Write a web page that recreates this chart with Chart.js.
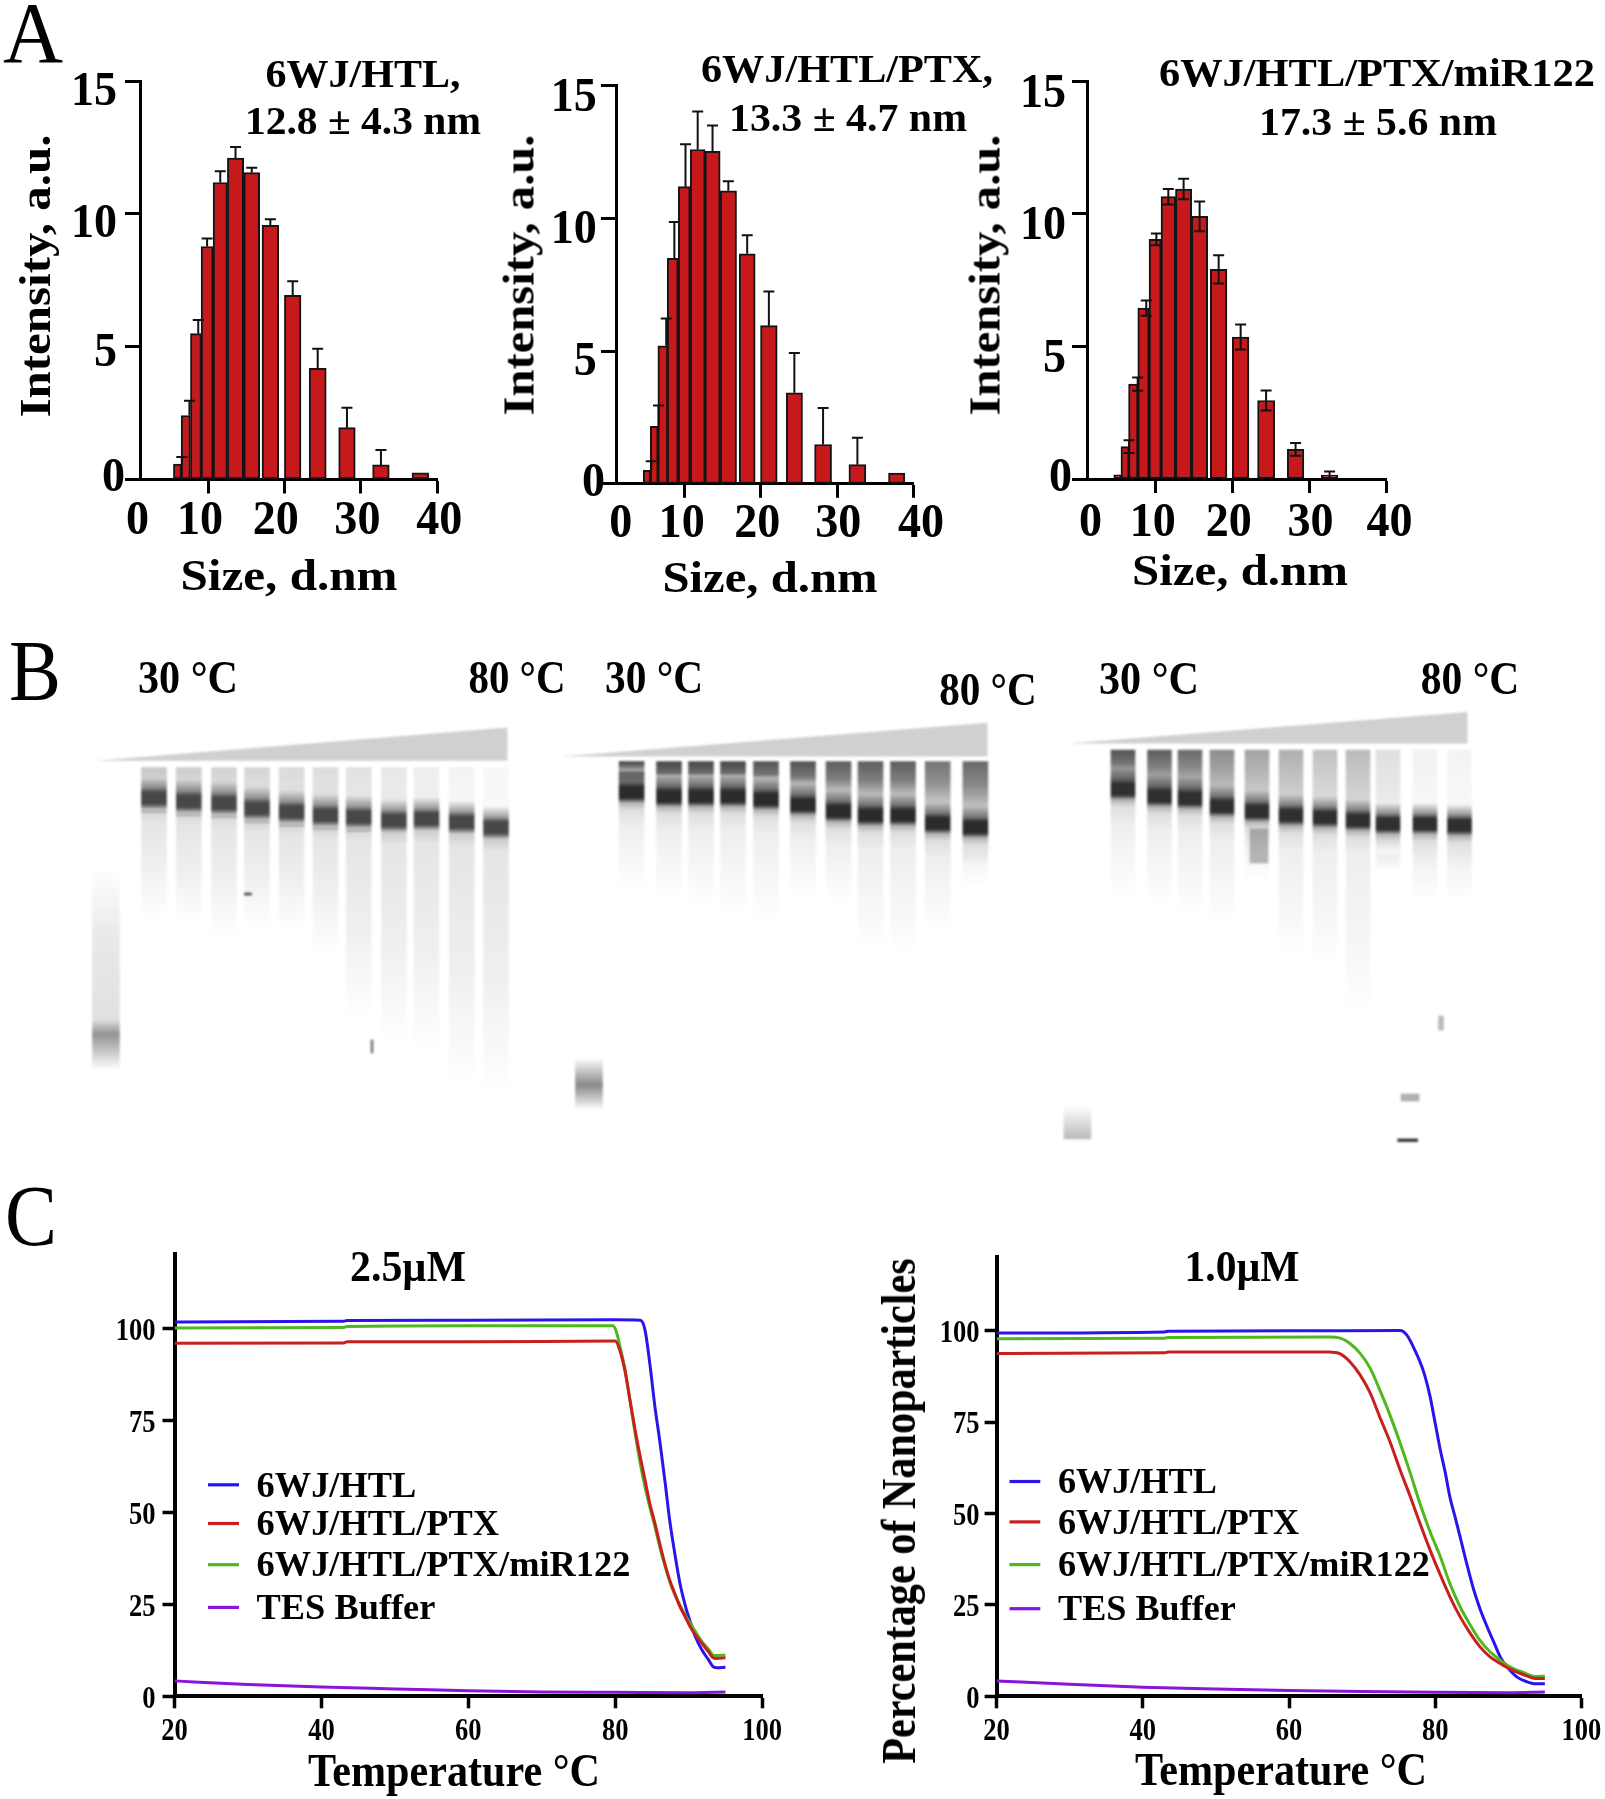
<!DOCTYPE html>
<html><head><meta charset="utf-8"><title>6WJ nanoparticle characterisation</title>
<script src="https://cdn.jsdelivr.net/npm/chart.js@4"></script>
<style>
html,body{margin:0;padding:0;background:#fff}
#page{position:relative;width:1605px;height:1799px;overflow:hidden;background:#fff}
canvas{position:absolute;display:block}
.t{position:absolute;white-space:pre;line-height:1;color:#000;font-family:"Liberation Serif",serif}
</style></head><body><div id="page"></div>
<script>
/* ---------- Panel A: size distributions ---------- */
const sizeTicks=[0,10,20,30,40];
const intensityTicks=[0,5,10,15];
const a1BinLow =[5.54,6.55,7.77,9.16,10.73,12.6,14.74,17.13,20.06,23.3,27.16,31.6,36.75];
const a1BinHigh=[6.46,7.63,9.07,10.6,12.47,14.6,16.7,19.18,22.1,25.4,29.2,33.65,38.8];
const a1Values =[0.58,2.41,5.49,8.77,11.18,12.1,11.55,9.57,6.93,4.18,1.95,0.55,0.25];
const a1ErrTop =[0.85,2.96,6.0,9.07,11.6,12.52,11.73,9.8,7.46,4.92,2.7,1.11,null];
const a1ErrShift=[0.57,0.48,0.3];
const a2BinLow =[4.68,5.6,6.6,7.82,9.26,10.83,12.75,14.75,17.24,20.03,23.39,27.1,31.59,36.77];
const a2BinHigh=[5.51,6.51,7.78,9.13,10.7,12.66,14.62,16.76,19.2,22.08,25.39,29.19,33.68,38.78];
const a2Values =[0.51,2.17,5.2,8.5,11.2,12.6,12.53,11.04,8.67,5.96,3.43,1.48,0.72,0.4];
const a2ErrTop =[0.85,2.95,6.23,9.87,12.8,14.03,13.5,11.4,9.37,7.25,4.93,2.86,1.74,null];
const a2ErrShift=[0.57,0.57,0.44,0.22,0.17];
const a3BinLow =[4.64,5.57,6.56,7.76,9.22,10.78,12.66,14.74,17.19,20.05,23.33,27.19,31.61];
const a3BinHigh=[5.52,6.51,7.66,9.11,10.68,12.55,14.64,16.72,19.22,22.08,25.42,29.22,33.65];
const a3Values =[0.16,1.22,3.58,6.44,9.03,10.64,10.93,9.9,7.9,5.35,2.96,1.12,0.15];
const a3ErrTop =[null,1.46,3.83,6.73,9.25,10.93,11.32,10.46,8.43,5.82,3.34,1.36,0.28];
const a3ErrShift=[0,0.52,0.57,0.36,0.16];

/* ---------- Panel B: gels (lane centre, main band, end of smear) ---------- */
const gel1Centers=[154,188.8,224,257,291.6,325.5,358.7,393.9,426.5,461.7,496];
const gel1Bands  =[797.6,801,802.8,808,811.4,814.8,816.6,820,818.3,821.7,827];
const gel1Tails  =[917,923,937,927,930,951,1017,1041,1051,1085,1092];
const gel1TopShade=[0.24,0.22,0.2,0.18,0.16,0.15,0.13,0.1,0.08,0.05,0.03];
const gel2Centers=[631.6,669,701,733,766,803,838.5,870.5,903,937.7,975.4];
const gel2Bands  =[792,796,796,796,799,804.5,811,815,815,823,827];
const gel2Tails  =[889,899,903,913,920,896,902,948,951,930,886];
const gel2TopShade=[0.85,0.8,0.8,0.8,0.75,0.75,0.7,0.7,0.7,0.6,0.65];
const gel3Centers=[1123,1159.5,1190,1222,1257,1291,1325,1358,1388,1425,1459.5];
const gel3Bands  =[789,796,798,806,811,815,817,820,823.5,823.5,825];
const gel3Tails  =[896,903,913,923,882,954,965,1010,870,900,900];
const gel3TopShade=[0.75,0.7,0.65,0.5,0.4,0.35,0.27,0.3,0.14,0.06,0.05];
const markerCenters=[106,589,1077.4];
const markerFrom=[868,1058,1106];
const markerBand=[1034,1085,1137];
const markerTo=[1070,1110,1139];
const markerShade=[0.5,0.55,0.3];
const wedgeLeft=[95.4,561,1067.7];
const wedgeRight=[507.6,987.7,1467.7];
const wedgeBase=[760.7,756.5,743.4];
const wedgeTop=[727.6,722.8,712];
const smudgeX=[1259,1410,1407.7,1441,248,372];
const smudgeFrom=[829,1094,1139,1016,893,1040];
const smudgeTo=[863,1101,1141.5,1030,895,1053];
const smudgeShade=[0.3,0.35,0.95,0.3,0.8,0.6];
const smudgeWidth=[18,18,20,5,7,2];

/* ---------- Panel C: melting curves ---------- */
const seriesLabels=['6WJ/HTL','6WJ/HTL/PTX','6WJ/HTL/PTX/miR122','TES Buffer'];
const tempTicks=[20,40,60,80,100];
const percentTicks=[0,25,50,75,100];
const c1BlueT =[20,43,43.5,60,80,83.4,84.05,84.7,85.4,86.1,86.8,87.4,88.1,88.8,89.5,90.2,90.9,91.8,92.7,93.3,93.8,95];
const c1BlueY =[101.9,102.1,102.3,102.4,102.5,102.4,99.7,90.6,78.8,68.9,58,48,38.9,30.8,24.9,20.3,16.2,12.6,9.9,8.1,7.8,7.9];
const c1RedT  =[20,43,43.5,60,80,80.6,81.3,82,82.7,83.4,84.05,84.7,85.4,86.1,86.8,87.4,88.1,88.8,89.5,90.2,90.9,91.8,92.7,93.3,93.8,95];
const c1RedY  =[96.1,96.2,96.5,96.5,96.7,94.3,88.8,80.7,72.5,65.2,58.9,52.5,47.1,41.2,35.7,31.7,28,24.4,21.7,18.9,16.7,14.4,12.1,10.5,10.3,10.5];
const c1GreenT=[20,43,43.5,60,79.7,80.2,80.6,81.3,82,82.7,83.4,84.05,84.7,85.4,86.1,86.8,87.4,88.1,88.8,89.5,90.2,90.9,91.8,92.7,93.4,95];
const c1GreenY=[100.3,100.4,100.7,100.9,100.9,98.9,95.6,89.3,80.5,71.6,63.4,57,51.6,46.2,40.3,35.3,31.3,27.7,24.9,22.2,19.9,17.6,14.9,12.8,11.1,11.2];
const c1BufT  =[20,30,40,50,60,70,80,90,95];
const c1BufY  =[4.2,3.2,2.5,2,1.5,1.2,1.1,1,1.2];
const c2BlueT =[20,43,43.5,60,75.2,76.1,77.2,78.4,79.3,80,80.7,81.4,82,82.7,83.4,84.3,85.2,86.1,87,88,88.9,89.8,91.1,92.5,93.7,95];
const c2BlueY =[99.4,99.7,99.9,100,100.1,98.9,94.8,88.9,82,74.7,67.4,61,54.6,49.2,43.7,36.4,29.6,24.1,19.5,14.9,10.8,8.1,5.4,4,3.4,3.4];
const c2RedT  =[20,43,43.5,65.5,67,68.3,69.7,71.1,72.4,73.8,75.2,76.6,77.9,79.3,80.7,82,83.4,84.8,86.1,87.5,88.9,90.2,92.1,93.7,95];
const c2RedY  =[93.8,94,94.2,94.2,93.7,91.6,88,83,76.5,69.7,61.9,54.6,47.4,40,33.2,27.3,21.8,17.2,13.6,10.8,9,7.5,5.9,4.9,4.9];
const c2GreenT=[20,43,43.5,65.5,67,68.3,69.7,71.1,72.4,73.8,75.2,76.6,77.9,79.3,80.7,82,83.4,84.8,86.1,87.5,88.9,90.2,92.1,93.7,95];
const c2GreenY=[97.8,98,98.2,98.3,98,96.6,93.9,89.8,83.9,77,69.3,61,52.8,45,38.2,30.9,24.5,19.5,15.4,12.2,9.9,8.1,6.5,5.4,5.5];
const c2BufT  =[20,30,40,50,60,70,80,90,95];
const c2BufY  =[4.2,3.3,2.5,2,1.6,1.3,1.1,1,1.2];

/* ---------- helpers ---------- */
const page=document.getElementById('page');
const FONT='"Liberation Serif"';
const measureCtx=document.createElement('canvas').getContext('2d');
function addText(t,a,b,c,size,rot,weight){
  weight=weight||'bold';
  measureCtx.font=weight+' '+size+'px '+FONT;
  const sx=(b-a)/measureCtx.measureText(t).width;
  const d=document.createElement('div');d.className='t';d.textContent=t;
  d.style.fontSize=size+'px';d.style.fontWeight=weight;
  const mid=(a+b)/2;
  d.style.left=(rot?c:mid)+'px';d.style.top=(rot?mid:c)+'px';
  d.style.transform='translate(-50%,-50%)'+(rot?' rotate(-90deg)':'')+' scaleX('+sx+')';
  page.appendChild(d);
}
function stretched(ctx,text,x,y,size,sx,align){
  ctx.save();ctx.font='bold '+size+'px '+FONT;ctx.fillStyle='#000';
  ctx.textAlign=align;ctx.textBaseline='middle';
  ctx.translate(x,y);ctx.scale(sx,1);ctx.fillText(text,0,0);ctx.restore();
}
const paperAxes={
  id:'paperAxes',
  afterDraw(chart,_,o){
    const xs=chart.scales.x,ys=chart.scales.y,ctx=chart.ctx;
    xs.ticks.forEach((t,i)=>stretched(ctx,String(t.value),xs.getPixelForValue(t.value)+(o.xDx?o.xDx[i]:0),chart.chartArea.bottom+o.xGap,o.size,o.sx,'center'));
    const ax=o.yAxisAt!=null?xs.getPixelForValue(o.yAxisAt):chart.chartArea.left;
    ys.ticks.forEach((t,i)=>stretched(ctx,String(t.value),ax+o.yRight[Math.min(i,o.yRight.length-1)],ys.getPixelForValue(t.value)+o.yDy[Math.min(i,o.yDy.length-1)],o.size,o.sx,'right'));
  }
};
const errBars={
  id:'errBars',
  afterDatasetsDraw(chart,_,o){
    if(!o.top)return;
    const ctx=chart.ctx,xs=chart.scales.x,ys=chart.scales.y;
    ctx.save();ctx.strokeStyle='#111';ctx.lineWidth=2;
    o.top.forEach((v,i)=>{
      if(v==null)return;
      const x=xs.getPixelForValue((o.low[i]+o.high[i])/2+(o.shift[i]||0));
      const yt=ys.getPixelForValue(v),yb=ys.getPixelForValue(o.both?2*o.val[i]-v:o.val[i]);
      ctx.beginPath();ctx.moveTo(x,yt);ctx.lineTo(x,yb);
      ctx.moveTo(x-5.5,yt);ctx.lineTo(x+5.5,yt);
      if(o.both){ctx.moveTo(x-5.5,yb);ctx.lineTo(x+5.5,yb);}
      ctx.stroke();
    });
    ctx.restore();
  }
};
const keyPlugin={
  id:'keyPlugin',
  afterDraw(chart,_,o){
    if(!o.rows)return;
    const ctx=chart.ctx;
    chart.data.datasets.forEach((d,i)=>{
      const y=o.rows[i];
      ctx.save();ctx.strokeStyle=d.borderColor;ctx.lineWidth=3.2;
      ctx.beginPath();ctx.moveTo(o.x0,y);ctx.lineTo(o.x1,y);ctx.stroke();ctx.restore();
      stretched(ctx,d.label,o.tx,y+2.5,o.size,o.sx,'left');
    });
  }
};
function makeCanvas(l,t,r,b){
  const c=document.createElement('canvas');
  c.width=r-l;c.height=b-t;c.style.left=l+'px';c.style.top=t+'px';
  c.style.width=(r-l)+'px';c.style.height=(b-t)+'px';
  page.appendChild(c);return c;
}
function zeroFit(s){if(s.isHorizontal())s.height=0;else s.width=0;}
function setTicks(arr){return s=>{s.ticks=arr.map(v=>({value:v}));};}
function sizeChart(box,plot,low,high,vals,errTop,shift,both,axisAt,lab){
  const ppu=(plot.r-plot.l)/40;
  const c=makeCanvas(box.l,box.t,box.r,box.b);
  const datasets=vals.map((v,i)=>({
    data:[{x:(low[i]+high[i])/2,y:v}],
    barThickness:(high[i]-low[i])*ppu+1,
    backgroundColor:'#c7181b',borderColor:'#141414',borderWidth:2,borderSkipped:false
  }));
  new Chart(c,{type:'bar',data:{datasets},plugins:[paperAxes,errBars],options:{
    responsive:false,animation:false,devicePixelRatio:1,grouped:false,
    layout:{padding:{left:plot.l-box.l,right:box.r-plot.r,top:plot.t-box.t,bottom:box.b-plot.b}},
    scales:{
      x:{type:'linear',min:0,max:40,offset:false,afterFit:zeroFit,afterBuildTicks:setTicks(sizeTicks),
        ticks:{display:false},
        grid:{offset:false,drawOnChartArea:false,tickLength:14,tickWidth:3,tickColor:ctx=>ctx.tick&&ctx.tick.value===0?'transparent':'#000'},
        border:{color:'#000',width:3}},
      y:{type:'linear',min:0,max:15,position:{x:axisAt},afterFit:zeroFit,afterBuildTicks:setTicks(intensityTicks),
        ticks:{display:false},
        grid:{drawOnChartArea:false,tickLength:14,tickWidth:3,tickColor:'#000'},
        border:{color:'#000',width:3}}
    },
    plugins:{legend:{display:false},tooltip:{enabled:false},
      errBars:{top:errTop,low,high,val:vals,shift,both},
      paperAxes:Object.assign({size:49,sx:0.94,yAxisAt:axisAt},lab)}
  }});
}
function meltChart(box,plot,yMax,series,lab,key){
  const c=makeCanvas(box.l,box.t,box.r,box.b);
  const colors=['#2a14ec','#c8201f','#4fb81c','#8a14dc'];
  const order=[2,0,1,3];
  const datasets=series.map((s,i)=>({
    label:seriesLabels[i],
    data:s[0].map((t,j)=>({x:t,y:s[1][j]})),
    borderColor:colors[i],borderWidth:3,pointRadius:0,fill:false,
    cubicInterpolationMode:'monotone',order:order[i]
  }));
  new Chart(c,{type:'line',data:{datasets},plugins:[paperAxes,keyPlugin],options:{
    responsive:false,animation:false,devicePixelRatio:1,
    layout:{padding:{left:plot.l-box.l,right:box.r-plot.r,top:plot.t-box.t,bottom:box.b-plot.b}},
    scales:{
      x:{type:'linear',min:20,max:100,afterFit:zeroFit,afterBuildTicks:setTicks(tempTicks),
        ticks:{display:false},
        grid:{drawOnChartArea:false,tickLength:12,tickWidth:3.5,tickColor:'#000'},
        border:{color:'#000',width:4}},
      y:{type:'linear',min:0,max:yMax,afterFit:zeroFit,afterBuildTicks:setTicks(percentTicks),
        ticks:{display:false},
        grid:{drawOnChartArea:false,tickLength:12,tickWidth:3.5,tickColor:'#000'},
        border:{color:'#000',width:4}}
    },
    plugins:{legend:{display:false},tooltip:{enabled:false},
      paperAxes:Object.assign({size:32,sx:0.83},lab),
      keyPlugin:key}
  }});
}

/* ---------- A ---------- */
sizeChart({l:60,t:50,r:500,b:570},{l:131.6,r:437.3,t:81,b:479.5},a1BinLow,a1BinHigh,a1Values,a1ErrTop,a1ErrShift,false,1.1,
  {xDx:[6,-8,-8.6,-3.5,2],xGap:42,yDy:[-1,7,10.6,11],yRight:[-15,-23,-23,-23]});
sizeChart({l:540,t:50,r:960,b:570},{l:607.9,r:913.7,t:85.8,b:483.8},a2BinLow,a2BinHigh,a2Values,a2ErrTop,a2ErrShift,false,1.15,
  {xDx:[12.8,-2.7,-3.5,1,7.3],xGap:40.5,yDy:[0,11,12,13],yRight:[-11.7,-20,-20,-20]});
sizeChart({l:1010,t:50,r:1440,b:570},{l:1078.6,r:1386.3,t:81,b:479},a3BinLow,a3BinHigh,a3Values,a3ErrTop,a3ErrShift,true,1.14,
  {xDx:[11.8,-2.7,-3.6,1.1,3.3],xGap:44,yDy:[-1,13,13,13],yRight:[-15.4,-21.4,-21.4,-21.4]});

/* ---------- B ---------- */
(function(){
  const top={g1:767.6,g2:761.5,g3:750};
  const box={l:0,t:700,r:1605,b:1160};
  const c=makeCanvas(box.l,box.t,box.r,box.b);
  c.style.filter='blur(1px)';
  function laneFill(centers,bands,tails,shade,kind){
    return function(ctx){
      if(ctx.type!=='data')return '#ccc';
      const i=ctx.dataIndex,ys=ctx.chart.scales.y;
      const y0=ys.getPixelForValue(top[kind]),y1=ys.getPixelForValue(tails[i]);
      const b=ys.getPixelForValue(bands[i]);
      if(!isFinite(y0)||!isFinite(y1)||!isFinite(b))return '#ccc';
      const g=ctx.chart.ctx.createLinearGradient(0,y0,0,y1);
      const h=y1-y0,st=(p,a)=>g.addColorStop(Math.min(1,Math.max(0,(p-y0)/h)),'rgba(25,25,25,'+a+')');
      const s=shade[i];
      const notch=kind==='g1'?s*0.9:kind==='g2'?s*0.42:s*0.6;
      const peak=kind==='g1'?0.8:kind==='g2'?0.92:0.9;
      st(y0,s);st(y0+(b-y0)*0.35,kind==='g1'?s*0.85:s*0.8);st(b-21,notch);st(b-10,(notch+peak)/2);st(b-5,peak);st(b+6,peak);
      if(kind==='g1'){
        st(b+10,0.45);st(b+12,0.22);
        if(i<7){st(b+14,0.38);st(b+16,0.16);}
        st(b+25,0.11);st(b+(y1-b)*0.55,0.07);
      }else{
        st(b+11,0.32);st(b+18,0.14);
        st(b+35,0.07);st(b+(y1-b)*0.6,0.045);
      }
      st(y1,0);
      return g;
    };
  }
  function laneSet(centers,bands,tails,shade,kind,w){
    return {type:'bar',data:centers.map((x,i)=>({x,y:[top[kind],tails[i]]})),barThickness:w,
      backgroundColor:laneFill(centers,bands,tails,shade,kind),borderWidth:0};
  }
  const markers={type:'bar',data:markerCenters.map((x,i)=>({x,y:[markerFrom[i],markerTo[i]]})),barThickness:27,borderWidth:0,
    backgroundColor(ctx){
      if(ctx.type!=='data')return '#ccc';
      const i=ctx.dataIndex,ys=ctx.chart.scales.y;
      const a=ys.getPixelForValue(markerFrom[i]),z=ys.getPixelForValue(markerTo[i]),b=ys.getPixelForValue(markerBand[i]);
      if(!isFinite(a)||!isFinite(z)||!isFinite(b))return '#ccc';
      const g=ctx.chart.ctx.createLinearGradient(0,a,0,z);
      const p=markerShade[i],f=Math.min(0.999,(b-a)/(z-a));
      g.addColorStop(0,'rgba(40,40,40,0)');
      if(i===0){g.addColorStop(0.35,'rgba(40,40,40,0.1)');g.addColorStop(0.75,'rgba(40,40,40,0.14)');}
      g.addColorStop(f,'rgba(40,40,40,'+p+')');
      g.addColorStop(1,'rgba(40,40,40,'+(i===2?p:0)+')');
      return g;
    }};
  const wedges=wedgeLeft.map((l,i)=>({type:'line',
    data:[{x:l,y:wedgeBase[i]},{x:wedgeRight[i],y:wedgeTop[i]}],
    fill:{value:wedgeBase[i]},backgroundColor:'#d0d0d0',borderWidth:0,pointRadius:0,tension:0}));
  const smudges=smudgeX.map((x,i)=>({type:'bar',data:[{x,y:[smudgeFrom[i],smudgeTo[i]]}],
    barThickness:smudgeWidth[i],backgroundColor:'rgba(30,30,30,'+smudgeShade[i]+')',borderWidth:0}));
  new Chart(c,{data:{datasets:[
      laneSet(gel1Centers,gel1Bands,gel1Tails,gel1TopShade,'g1',25),
      laneSet(gel2Centers,gel2Bands,gel2Tails,gel2TopShade,'g2',25),
      laneSet(gel3Centers,gel3Bands,gel3Tails,gel3TopShade,'g3',24),
      markers,...smudges,...wedges]},
    options:{responsive:false,animation:false,devicePixelRatio:1,grouped:false,
      layout:{padding:0},
      scales:{x:{type:'linear',min:box.l,max:box.r,offset:false,display:false},
              y:{type:'linear',min:box.t,max:box.b,reverse:true,display:false}},
      plugins:{legend:{display:false},tooltip:{enabled:false}}}});
})();

/* ---------- C ---------- */
meltChart({l:90,t:1235,r:800,b:1765},{l:174.5,r:762.2,t:1253.7,b:1696.3},120.5,
  [[c1BlueT,c1BlueY],[c1RedT,c1RedY],[c1GreenT,c1GreenY],[c1BufT,c1BufY]],
  {xGap:35.5,yDy:[3],yRight:[-19]},
  {rows:[1484.8-1235,1523.5-1235,1564.7-1235,1607.4-1235],x0:208-90,x1:239-90,tx:256.6-90,size:36,sx:1.01});
meltChart({l:920,t:1235,r:1605,b:1765},{l:996.6,r:1581.4,t:1257,b:1696.3},120.2,
  [[c2BlueT,c2BlueY],[c2RedT,c2RedY],[c2GreenT,c2GreenY],[c2BufT,c2BufY]],
  {xGap:35.5,yDy:[3],yRight:[-17]},
  {rows:[1481.5-1235,1521.9-1235,1564.6-1235,1608.7-1235],x0:1009.5-920,x1:1040.3-920,tx:1058-920,size:36,sx:1.005});

/* ---------- text ---------- */
addText('A',3,63,32.5,86,false,'normal');
addText('B',9,61,671,86,false,'normal');
addText('C',5,57,1216,86,false,'normal');
addText('6WJ/HTL,',265,460,74,40);
addText('12.8 ± 4.3 nm',245,481,121,40);
addText('Size, d.nm',180,397,575,45);
addText('Intensity, a.u.',134,417,35,45,true);
addText('6WJ/HTL/PTX,',701,993,69,40);
addText('13.3 ± 4.7 nm',729,967,117.5,40);
addText('Size, d.nm',662,877,577,45);
addText('Intensity, a.u.',134,415,519,45,true);
addText('6WJ/HTL/PTX/miR122',1159,1595,72.5,40);
addText('17.3 ± 5.6 nm',1259,1497,122,40);
addText('Size, d.nm',1132,1348,570,45);
addText('Intensity, a.u.',134,415,985,45,true);
addText('30 °C',138,238,678,46);
addText('80 °C',468,565,678,46);
addText('30 °C',605,703,678,46);
addText('80 °C',939.5,1037,690,46);
addText('30 °C',1099,1199,679,46);
addText('80 °C',1420.5,1519,679,46);
addText('2.5µM',350,466,1267,44);
addText('1.0µM',1184,1299,1267,44);
addText('Temperature °C',307.7,599.5,1771,46);
addText('Temperature °C',1135,1427,1770,46);
addText('Percentage of Nanoparticles',1258.6,1764,899,48,true);
</script></body></html>
